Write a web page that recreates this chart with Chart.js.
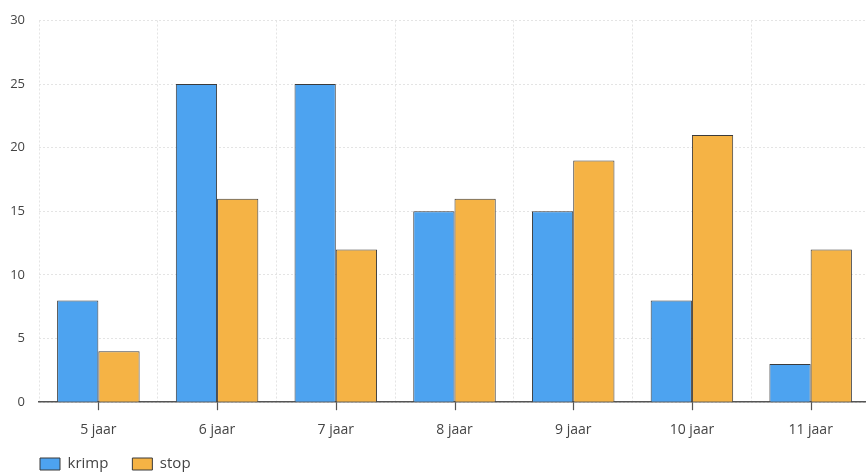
<!DOCTYPE html>
<html><head><meta charset="utf-8">
<script src="https://cdn.jsdelivr.net/npm/chart.js@4/dist/chart.umd.min.js"></script>
<style>html,body{margin:0;padding:0;background:#fff;overflow:hidden}#w{width:872px;height:472px}</style>
</head><body><div id="w"><canvas id="c"></canvas></div>
<script>
const categories = ["5 jaar","6 jaar","7 jaar","8 jaar","9 jaar","10 jaar","11 jaar"];
const krimp = [8,25,25,15,15,8,3];
const stop = [4,16,12,16,19,21,12];
const yTicks = [0,5,10,15,20,25,30];

const tickMarks = {
  id:'tickMarks',
  afterDraw(chart){
    const x = chart.scales.x, ctx = chart.ctx;
    ctx.save(); ctx.strokeStyle='#555'; ctx.lineWidth=1.2;
    x.ticks.forEach((t,i)=>{ const px=Math.round(x.getPixelForTick(i))+0.5;
      ctx.beginPath(); ctx.moveTo(px,x.top); ctx.lineTo(px,x.top+8); ctx.stroke(); });
    ctx.restore();
  }
};
const legendShift = {
  id:'legendShift',
  afterLayout(chart){
    const l = chart.legend; const dx = 40 - (l.left + 24);
    l.left += dx; l.right += dx;
    const dy = 464 - (l.top + 24 + 7.5);
    l.top += dy; l.bottom = chart.height; l.height = l.bottom - l.top;
  }
};
Chart.defaults.font.family = "'Open Sans', sans-serif";
Chart.defaults.color = '#444';
new Chart(document.getElementById('c'),{
  type:'bar',
  data:{labels:categories,datasets:[
    {label:'krimp',data:krimp,backgroundColor:'#4da3f0',borderColor:'#3b3b3b',borderWidth:1},
    {label:'stop',data:stop,backgroundColor:'#f5b345',borderColor:'#3b3b3b',borderWidth:1}
  ]},
  options:{
    responsive:true,maintainAspectRatio:false,animation:false,
    layout:{padding:{left:0,right:2,top:3,bottom:0}},
    datasets:{bar:{barPercentage:1.0,categoryPercentage:0.695}},
    plugins:{tooltip:{enabled:false},
      legend:{position:'bottom',align:'start',maxHeight:15,
        labels:{boxWidth:20,boxHeight:12,font:{size:15},color:'#444',padding:24}}},
    scales:{
      x:{grid:{offset:true,drawTicks:false,color:'#e4e4e4',lineWidth:1},
         border:{display:true,color:'#555',width:1.5,dash:[2,2]},
         ticks:{padding:19,font:{size:14},color:'#444'}},
      y:{min:0,max:30,afterBuildTicks:(s)=>{s.ticks=yTicks.map(v=>({value:v}));},
         afterFit:(s)=>{s.width=39;},
         grid:{color:'#e4e4e4',drawTicks:false},
         border:{display:false,dash:[2,2]},
         ticks:{padding:14,font:{size:13,lineHeight:1},color:'#444'}}
    }
  },
  plugins:[tickMarks,legendShift]
});
</script></body></html>
